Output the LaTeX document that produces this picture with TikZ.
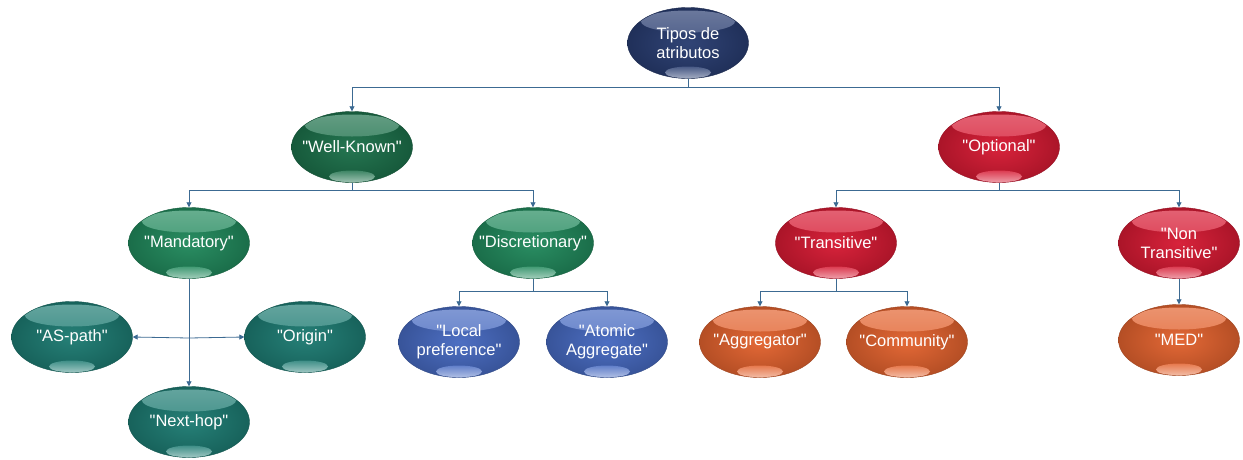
\documentclass[tikz,border=0pt]{standalone}
\usepackage{fontspec}
\setmainfont{Liberation Sans}[Ligatures=TeXOff]
\usetikzlibrary{shapes.geometric,arrows.meta}
\definecolor{cnavy}{HTML}{283C70}
\definecolor{cdkgreen}{HTML}{1C704A}
\definecolor{cgreen}{HTML}{21895C}
\definecolor{cteal}{HTML}{1D7B72}
\definecolor{cblue}{HTML}{4669C0}
\definecolor{cred}{HTML}{D61A33}
\definecolor{corange}{HTML}{E2622E}
\definecolor{linec}{HTML}{3C6A92}
\begin{document}
\begin{tikzpicture}[x=1pt,y=-1pt,
  bub/.style={ellipse, minimum width=121pt, minimum height=71pt, inner sep=0pt,
    inner color=#1!96!white, outer color=#1!80!black, draw=#1!70!black, line width=0.4pt,
    path picture={
      \shade[top color=#1!68!white, bottom color=#1!97!white]
        ([yshift=-14pt]path picture bounding box.north) ellipse [x radius=47pt, y radius=11pt];
      \shade[top color=#1!85!white, bottom color=#1!42!white]
        ([yshift=6pt]path picture bounding box.south) ellipse [x radius=23pt, y radius=6pt];
    }},
  lbl/.style={align=center, text=white, inner sep=0pt, font=\fontsize{16.5}{19}\selectfont},
  conn/.style={draw=linec, line width=0.8pt},
  arr/.style={conn, -{Triangle[width=5pt,length=5pt]}}
]
\useasboundingbox (0,0) rectangle (1243,459);

% tree of attribute types
\node[bub=cnavy,    label={[lbl]center:Tipos de\\atributos}]   (root) at (688,43)  {};
\node[bub=cdkgreen, label={[lbl]center:"Well-Known"}]          (wk)   at (352,147) {};
\node[bub=cred,     label={[lbl]center:"Optional"}]            (opt)  at (999,147) {};
\node[bub=cgreen,   label={[lbl]center:"Mandatory"}]           (mand) at (189,243) {};
\node[bub=cgreen,   label={[lbl]center:"Discretionary"}]       (disc) at (533,243) {};
\node[bub=cred,     label={[lbl]center:"Transitive"}]          (tran) at (836,243) {};
\node[bub=cred,     label={[lbl]center:"Non\\Transitive"}]     (nont) at (1179,243) {};
\node[bub=cteal,    label={[lbl]center:"AS-path"}]             (asp)  at (72,337)  {};
\node[bub=cteal,    label={[lbl]center:"Origin"}]              (ori)  at (305,337) {};
\node[bub=cteal,    label={[lbl]center:"Next-hop"}]            (nh)   at (189,422) {};
\node[bub=cblue,    label={[lbl]center:"Local\\preference"}]   (lp)   at (459,342) {};
\node[bub=cblue,    label={[lbl]center:"Atomic\\Aggregate"}]   (aa)   at (607,342) {};
\node[bub=corange,  label={[lbl]center:"Aggregator"}]          (agg)  at (760,342) {};
\node[bub=corange,  label={[lbl]center:"Community"}]           (com)  at (907,342) {};
\node[bub=corange,  label={[lbl]center:"MED"}]                 (med)  at (1179,340) {};

% junction points of the connectors
\coordinate (j0) at (688,87);
\coordinate (j1) at (352,190);
\coordinate (j2) at (999,190);
\coordinate (j3) at (533,291);
\coordinate (j4) at (836,291);
\coordinate (j5) at (189,338);

\draw[conn] (root.south) -- (j0);
\draw[arr] (j0) -| (wk.north);
\draw[arr] (j0) -| (opt.north);

\draw[conn] (wk.south) -- (j1);
\draw[arr] (j1) -| (mand.north);
\draw[arr] (j1) -| (disc.north);

\draw[conn] (opt.south) -- (j2);
\draw[arr] (j2) -| (tran.north);
\draw[arr] (j2) -| (nont.north);

\draw[conn] (disc.south) -- (j3);
\draw[arr] (j3) -| (lp.north);
\draw[arr] (j3) -| (aa.north);

\draw[conn] (tran.south) -- (j4);
\draw[arr] (j4) -| (agg.north);
\draw[arr] (j4) -| (com.north);

\draw[arr] (nont.south) -- (med.north);

\draw[arr] (mand.south) -- (nh.north);
\draw[arr] (j5) -- (asp.east);
\draw[arr] (j5) -- (ori.west);
\end{tikzpicture}
\end{document}
